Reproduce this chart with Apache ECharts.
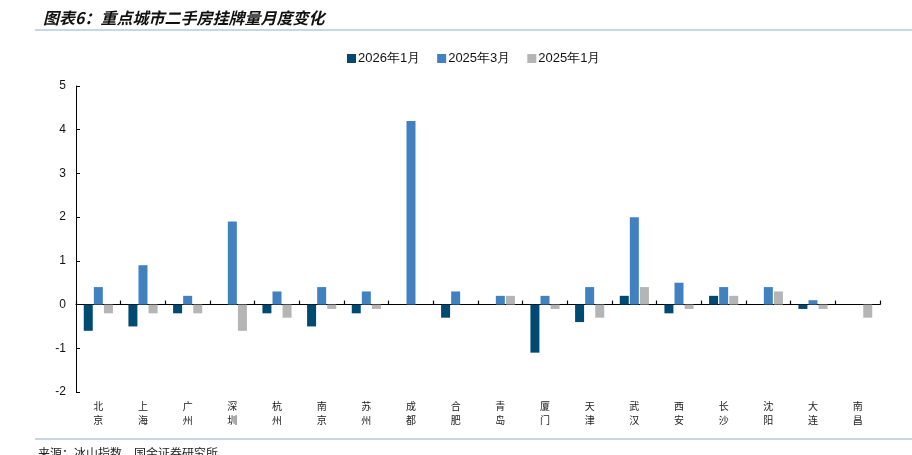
<!DOCTYPE html>
<html>
<head>
<meta charset="utf-8">
<script src="https://cdn.jsdelivr.net/npm/echarts@6/dist/echarts.min.js"></script>
<style>html,body{margin:0;padding:0;background:#fff;}#c{width:912px;height:455px;}</style>
</head>
<body>
<div id="c"></div>
<script>
const categories = ['北京','上海','广州','深圳','杭州','南京','苏州','成都','合肥','青岛','厦门','天津','武汉','西安','长沙','沈阳','大连','南昌'];
const s2026Jan = [-0.6,-0.5,-0.2,0,-0.2,-0.5,-0.2,0,-0.3,0,-1.1,-0.4,0.2,-0.2,0.2,0,-0.1,0];
const s2025Mar = [0.4,0.9,0.2,1.9,0.3,0.4,0.3,4.2,0.3,0.2,0.2,0.4,2.0,0.5,0.4,0.4,0.1,0];
const s2025Jan = [-0.2,-0.2,-0.2,-0.6,-0.3,-0.1,-0.1,0,0,0.2,-0.1,-0.3,0.4,-0.1,0.2,0.3,-0.1,-0.3];
const seriesNames = ['2026年1月','2025年3月','2025年1月'];
const yTicks = {min:-2, max:5, interval:1};

const chart = echarts.init(document.getElementById('c'));
const colors = ['#004A72','#4181C0','#B5B5B5'];
const mk = (name, data, i) => ({
  name, type:'bar', data, xAxisIndex:0, barWidth:9, barGap:'12%',
  itemStyle:{color:colors[i]}
});
chart.setOption({
  animation:false,
  color: colors,
  title:{
    text:'图表6：重点城市二手房挂牌量月度变化',
    left:38, top:5,
    textStyle:{fontFamily:'Noto Sans CJK SC', fontSize:16, fontWeight:'bold', fontStyle:'italic', color:'#111'}
  },
  legend:{
    top:47, left:342, itemWidth:9, itemHeight:9, itemGap:17, icon:'rect',
    textStyle:{fontFamily:'Liberation Sans, Arial', fontSize:13, color:'#111', padding:[0,0,0,-3]},
    data: seriesNames
  },
  grid:{left:76, right:32, top:86, bottom:63},
  xAxis:[{
    type:'category', data:categories, boundaryGap:true,
    axisLine:{onZero:true, lineStyle:{color:'#000', width:1.2}},
    axisTick:{show:true, inside:true, length:4, lineStyle:{color:'#000', width:1.2}},
    axisLabel:{show:false}
  },{
    type:'category', data:categories, position:'bottom',
    axisLine:{show:false, onZero:false}, axisTick:{show:false},
    axisLabel:{
      margin:7, interval:0, lineHeight:14,
      fontFamily:'Noto Sans CJK SC', fontSize:10, color:'#222',
      formatter: v => v.split('').join('\n')
    }
  }],
  yAxis:{
    type:'value', min:yTicks.min, max:yTicks.max, interval:yTicks.interval,
    axisLine:{show:true, lineStyle:{color:'#000'}},
    axisTick:{show:true, inside:true, length:4, lineStyle:{color:'#000'}},
    splitLine:{show:false},
    axisLabel:{fontFamily:'Liberation Sans, Arial', fontSize:12, color:'#111', margin:10}
  },
  graphic:[
    {type:'line', shape:{x1:35, y1:30, x2:912, y2:30}, style:{stroke:'#B7C9DA', lineWidth:1.5}},
    {type:'line', shape:{x1:35, y1:439, x2:912, y2:439}, style:{stroke:'#B7C9DA', lineWidth:1.5}},
    {type:'text', left:38, top:447, style:{text:'来源：冰山指数，国金证券研究所', font:'12px "Noto Sans CJK SC"', fill:'#222'}}
  ],
  series:[
    mk(seriesNames[0], s2026Jan, 0),
    mk(seriesNames[1], s2025Mar, 1),
    mk(seriesNames[2], s2025Jan, 2)
  ]
});
</script>
</body>
</html>
